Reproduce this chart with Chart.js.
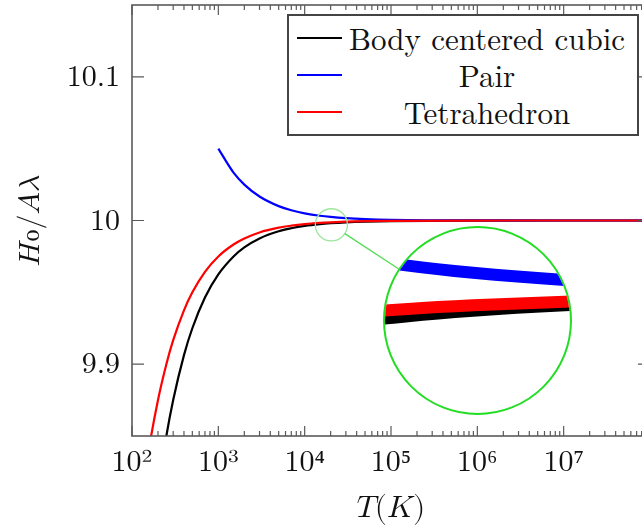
<!DOCTYPE html>
<html>
<head>
<meta charset="utf-8">
<script src="https://cdn.jsdelivr.net/npm/chart.js@4.4.1/dist/chart.umd.min.js"></script>
<style>
  html, body { margin: 0; padding: 0; background: #fff; overflow: hidden; }
  #wrap { position: relative; width: 652px; height: 529px; }
  #legend {
    position: absolute; left: 287px; top: 14px; width: 352px; height: 122px;
    box-sizing: border-box; border: 2px solid #444; background: #fff;
    padding-top: 3px;
    font-family: 'Latin Modern Roman', 'Liberation Serif', serif; font-size: 31px; color: #111;
  }
  .row { display: flex; align-items: center; height: 37px; }
  .swatch { width: 45px; height: 2px; margin-left: 8px; }
  .name { flex: 1; text-align: center; padding-right: 5px; line-height: 37px; }
  #spy {
    position: absolute; left: 383px; top: 226px; width: 189px; height: 189px;
    box-sizing: border-box; border: 2.5px solid #22dd22; border-radius: 50%;
    overflow: hidden; background: #fff;
  }
  #spyInner { position: relative; width: 100%; height: 100%; }
</style>
</head>
<body>
<div id="wrap">
  <canvas id="mainChart"></canvas>
  <div id="legend"></div>
  <div id="spy"><div id="spyInner"><canvas id="spyChart"></canvas></div></div>
</div>
<script>
// values
const temps = [100, 150, 200, 250, 300, 400, 500, 700, 1000, 1500, 2000, 3000, 5000, 7000,
  10000, 15000, 20000, 30000, 50000, 100000, 1000000, 10000000, 100000000]
const bccValues = [9.625, 9.75, 9.8125, 9.85, 9.875, 9.9063, 9.925, 9.9464, 9.9625, 9.975, 9.9813, 9.9875, 9.9925, 9.9946,
  9.99625, 9.9975, 9.99813, 9.99875, 9.99925, 9.99963, 9.99996, 10, 10]
const pairValues = [null, null, null, null, null, null, null, null, 10.05, 10.0333, 10.025, 10.0167, 10.01, 10.0071,
  10.005, 10.00333, 10.0025, 10.00167, 10.001, 10.0005, 10.00005, 10, 10]
const tetraValues = [9.75, 9.8333, 9.875, 9.9, 9.9167, 9.9375, 9.95, 9.9643, 9.975, 9.9833, 9.9875, 9.9917, 9.995, 9.9964,
  9.9975, 9.99833, 9.99875, 9.99917, 9.9995, 9.99975, 9.99998, 10, 10]

const seriesLabels = ['Body centered cubic', 'Pair', 'Tetrahedron']
const seriesColors = ['#000000', '#0000ff', '#ff0000']

const xTickExponents = [2, 3, 4, 5, 6, 7, 8]
const yTickValues = [9.9, 10, 10.1]

// spy (magnifier) settings
const spyT = 20400
const spyV = 9.997
const spyMag = 6
const spyBig = { x: 477.5, y: 320.5, r: 94.5 }

const serif = "'Latin Modern Roman', 'Liberation Serif', serif"
const mathFont = "'Latin Modern Math', 'Latin Modern Roman', 'DejaVu Serif', serif"
const frameColor = '#5a5a5a'
const sup = { 2: '²', 3: '³', 4: '⁴', 5: '⁵', 6: '⁶', 7: '⁷' }

function points(values) {
  return temps.map((t, i) => ({ x: t, y: values[i] }))
}

function makeDatasets(width) {
  const all = [bccValues, pairValues, tetraValues]
  const order = [2, 1, 0]
  return all.map((vals, i) => ({
    label: seriesLabels[i],
    data: points(vals),
    borderColor: seriesColors[i],
    backgroundColor: seriesColors[i],
    borderWidth: width,
    pointRadius: 0,
    cubicInterpolationMode: 'monotone',
    order: order[i]
  }))
}

function noPad(scale) {
  scale.paddingLeft = 0
  scale.paddingRight = 0
  scale.paddingTop = 0
  scale.paddingBottom = 0
}

const frameTicks = {
  id: 'frameTicks',
  afterDraw(chart) {
    const { ctx, chartArea: a, scales } = chart
    ctx.save()
    ctx.strokeStyle = frameColor
    ctx.lineWidth = 1.2
    scales.x.ticks.forEach((tk) => {
      const px = scales.x.getPixelForValue(tk.value)
      const len = tk.major ? 10 : 5
      ctx.beginPath()
      ctx.moveTo(px, a.bottom)
      ctx.lineTo(px, a.bottom - len)
      ctx.moveTo(px, a.top)
      ctx.lineTo(px, a.top + len)
      ctx.stroke()
    })
    scales.y.ticks.forEach((tk) => {
      const py = scales.y.getPixelForValue(tk.value)
      ctx.beginPath()
      ctx.moveTo(a.left, py)
      ctx.lineTo(a.left + 12, py)
      ctx.moveTo(a.right, py)
      ctx.lineTo(a.right - 12, py)
      ctx.stroke()
    })
    ctx.lineWidth = 1.6
    ctx.strokeRect(a.left, a.top, a.right - a.left, a.bottom - a.top)
    ctx.restore()
  }
}

const spyMarker = {
  id: 'spyMarker',
  afterDatasetsDraw(chart) {
    const { ctx, scales } = chart
    const cx = scales.x.getPixelForValue(spyT)
    const cy = scales.y.getPixelForValue(spyV)
    const r = spyBig.r / spyMag * 1.02
    const dx = spyBig.x - cx
    const dy = spyBig.y - cy
    const d = Math.hypot(dx, dy)
    ctx.save()
    ctx.strokeStyle = '#9ee59e'
    ctx.lineWidth = 1.3
    ctx.beginPath()
    ctx.arc(cx, cy, r, 0, Math.PI * 2)
    ctx.stroke()
    ctx.strokeStyle = '#55dd55'
    ctx.lineWidth = 1.4
    ctx.beginPath()
    ctx.moveTo(cx + dx / d * r, cy + dy / d * r)
    ctx.lineTo(spyBig.x - dx / d * spyBig.r, spyBig.y - dy / d * spyBig.r)
    ctx.stroke()
    ctx.restore()
  }
}

const mainChart = new Chart(document.getElementById('mainChart'), {
  type: 'line',
  data: { datasets: makeDatasets(2.2) },
  options: {
    responsive: true,
    maintainAspectRatio: false,
    animation: false,
    layout: { padding: { top: 5, right: 2, left: 0, bottom: 0 } },
    plugins: { legend: { display: false }, tooltip: { enabled: false } },
    scales: {
      x: {
        type: 'logarithmic',
        min: 100,
        max: 100000000,
        afterBuildTicks(scale) {
          const ticks = []
          xTickExponents.forEach((e) => {
            for (let m = 1; m <= 9; m++) {
              if (e === 8 && m > 1) break
              ticks.push({ value: m * Math.pow(10, e), major: m === 1 })
            }
          })
          scale.ticks = ticks
        },
        afterFit(scale) {
          scale.height = 93
          noPad(scale)
        },
        grid: { display: false, drawTicks: false },
        border: { display: false },
        ticks: {
          autoSkip: false,
          maxRotation: 0,
          padding: 8,
          color: '#111',
          font: { family: serif, size: 30 },
          callback(value) {
            const e = Math.round(Math.log10(value))
            const isMajor = Math.abs(value - Math.pow(10, e)) < 1e-6 * value
            return isMajor && sup[e] ? '10' + sup[e] : ''
          }
        },
        title: {
          display: true,
          text: '𝑇(𝐾)',
          color: '#111',
          font: { family: mathFont, size: 31 },
          padding: { top: 0, bottom: 3 }
        }
      },
      y: {
        type: 'linear',
        min: 9.85,
        max: 10.15,
        afterBuildTicks(scale) {
          scale.ticks = yTickValues.map((v) => ({ value: v }))
        },
        afterFit(scale) {
          scale.width = 132
          noPad(scale)
        },
        grid: { display: false, drawTicks: false },
        border: { display: false },
        ticks: {
          padding: 12,
          color: '#111',
          font: { family: serif, size: 30 },
          callback(value) { return String(value) }
        },
        title: {
          display: true,
          text: '𝐻₀/𝐴𝜆',
          color: '#111',
          font: { family: mathFont, size: 30 },
          padding: { top: 12, bottom: 0 }
        }
      }
    }
  },
  plugins: [frameTicks, spyMarker]
})

// legend, built from the datasets
const legend = document.getElementById('legend')
mainChart.data.datasets.forEach((ds) => {
  const row = document.createElement('div')
  row.className = 'row'
  row.innerHTML = `<div class="swatch" style="background:${ds.borderColor}"></div><div class="name">${ds.label}</div>`
  legend.appendChild(row)
})

// magnified view, ranges taken from the main chart's scales
const xs = mainChart.scales.x
const ys = mainChart.scales.y
const spyHalf = (spyBig.r - 2.5) / spyMag
const scx = xs.getPixelForValue(spyT)
const scy = ys.getPixelForValue(spyV)

new Chart(document.getElementById('spyChart'), {
  type: 'line',
  data: { datasets: makeDatasets(12) },
  options: {
    responsive: true,
    maintainAspectRatio: false,
    animation: false,
    layout: { padding: 0 },
    plugins: { legend: { display: false }, tooltip: { enabled: false } },
    scales: {
      x: {
        type: 'logarithmic',
        display: false,
        min: xs.getValueForPixel(scx - spyHalf),
        max: xs.getValueForPixel(scx + spyHalf)
      },
      y: {
        type: 'linear',
        display: false,
        min: ys.getValueForPixel(scy + spyHalf),
        max: ys.getValueForPixel(scy - spyHalf)
      }
    }
  }
})
</script>
</body>
</html>
